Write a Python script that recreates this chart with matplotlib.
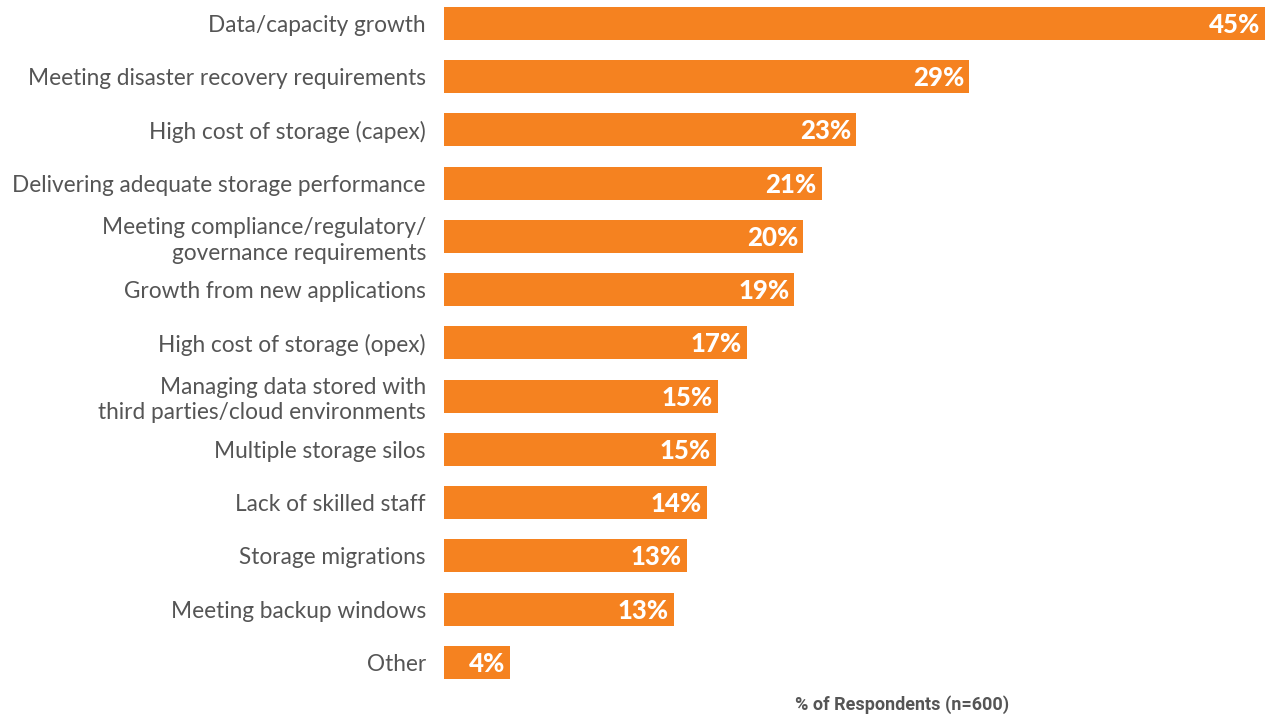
import matplotlib
matplotlib.use("Agg")
import matplotlib.pyplot as plt

categories = [
    "Data/capacity growth",
    "Meeting disaster recovery requirements",
    "High cost of storage (capex)",
    "Delivering adequate storage performance",
    "Meeting compliance/regulatory/\ngovernance requirements",
    "Growth from new applications",
    "High cost of storage (opex)",
    "Managing data stored with\nthird parties/cloud environments",
    "Multiple storage silos",
    "Lack of skilled staff",
    "Storage migrations",
    "Meeting backup windows",
    "Other",
]
values = [45.0, 28.8, 22.6, 20.7, 19.7, 19.2, 16.6, 15.0, 14.9, 14.4, 13.3, 12.6, 3.6]
value_labels = ["45%", "29%", "23%", "21%", "20%", "19%", "17%", "15%", "15%", "14%", "13%", "13%", "4%"]
x_title = "% of Respondents (n=600)"

BAR_COLOR = "#F58220"
TEXT_COLOR = "#555555"

plt.rcParams["font.family"] = ["Lato", "DejaVu Sans"]

fig = plt.figure(figsize=(12.73, 7.17), dpi=100)
ax = fig.add_axes([0.3488, 0.039, 0.6449, 0.9654])

y = list(range(len(categories)))
ax.barh(y, values, height=0.62, color=BAR_COLOR)

for yi, v, lab in zip(y, values, value_labels):
    ax.annotate(lab, (v, yi), xytext=(-3.5, -1), textcoords="offset points",
                ha="right", va="center", color="white", fontsize=18.5,
                fontweight="black")

ax.set_xlim(0, 45)
ax.set_ylim(len(categories) - 0.5, -0.5)
ax.set_yticks(y)
ax.set_yticklabels(categories, fontsize=16.3, color=TEXT_COLOR,
                   linespacing=1.25)
ax.tick_params(axis="y", length=0, pad=13)
ax.set_xticks([])
for s in ax.spines.values():
    s.set_visible(False)

fig.text(902 / 1273, 1 - 705 / 717, x_title, ha="center", va="center",
         fontsize=13, fontweight="bold", color=TEXT_COLOR,
         family=["Roboto", "DejaVu Sans"], fontstretch="condensed")

fig.savefig("out.png", dpi=100)
